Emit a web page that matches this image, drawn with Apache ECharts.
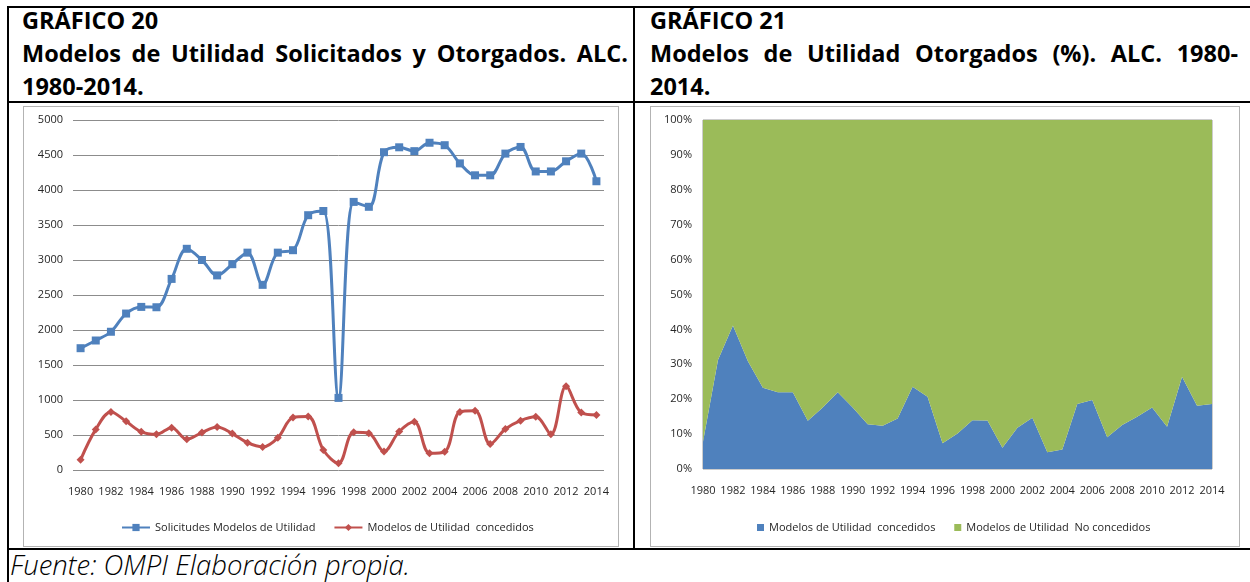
<!DOCTYPE html>
<html>
<head>
<meta charset="utf-8">
<script src="https://cdn.jsdelivr.net/npm/echarts@6/dist/echarts.min.js"></script>
<style>
  html, body { margin:0; padding:0; background:#fff; }
  body { width:1250px; height:582px; position:relative; overflow:hidden; font-family:"Open Sans", sans-serif; }
  .ln { position:absolute; background:#000; }
  .frame { position:absolute; border:1px solid #b3b3b3; box-sizing:border-box; background:#fff; }
  .title { position:absolute; font-weight:bold; font-size:23.5px; line-height:33px; color:#000; }
  .title div { white-space:nowrap; }
  .just { text-align:justify; text-align-last:justify; }
  #foot { position:absolute; left:10px; top:549px; font-size:27.5px; line-height:32px; font-style:italic; font-weight:300; color:#000; }
  #chart { position:absolute; left:0; top:0; width:1250px; height:582px; }
</style>
</head>
<body>
<div class="ln" style="left:7px;top:6px;width:1243px;height:2px;"></div>
<div class="ln" style="left:7px;top:6px;width:2px;height:576px;"></div>
<div class="ln" style="left:633px;top:6px;width:2px;height:544px;"></div>
<div class="ln" style="left:7px;top:101px;width:1243px;height:2px;"></div>
<div class="ln" style="left:7px;top:548px;width:1243px;height:2px;"></div>

<div class="frame" style="left:23px;top:106px;width:596px;height:441px;"></div>
<div class="frame" style="left:650px;top:106px;width:590px;height:441px;"></div>

<div class="title" style="left:22px;top:4px;width:606px;">
  <div>GRÁFICO 20</div>
  <div class="just">Modelos de Utilidad Solicitados y Otorgados. ALC.</div>
  <div>1980-2014.</div>
</div>
<div class="title" style="left:650px;top:4px;width:588px;">
  <div>GRÁFICO 21</div>
  <div class="just">Modelos de Utilidad Otorgados (%). ALC. 1980-</div>
  <div>2014.</div>
</div>
<div id="foot">Fuente: OMPI Elaboración propia.</div>

<div id="chart"></div>
<script>
const years = ['1980','1981','1982','1983','1984','1985','1986','1987','1988','1989','1990','1991','1992','1993','1994','1995','1996','1997','1998','1999','2000','2001','2002','2003','2004','2005','2006','2007','2008','2009','2010','2011','2012','2013','2014'];
const solicitudes = [1740,1850,1975,2235,2330,2325,2730,3160,3000,2780,2940,3105,2645,3105,3140,3640,3700,1030,3830,3760,4540,4610,4555,4675,4640,4380,4210,4210,4520,4615,4265,4265,4410,4520,4125];
const concedidos = [145,580,830,695,545,510,605,440,535,615,520,390,330,460,750,765,285,95,540,525,265,550,690,240,260,830,845,370,585,705,760,510,1195,820,785];
const pctConcedidos = [7.8,31.2,41.1,30.9,23.3,22.0,22.0,13.8,17.6,22.0,17.6,12.8,12.4,14.5,23.6,20.7,7.4,10.2,14.0,13.9,6.1,11.8,14.7,4.8,5.6,18.6,19.8,9.1,12.6,15.0,17.6,12.1,26.4,18.1,18.6];
const pctNoConcedidos = [92.2,68.8,58.9,69.1,76.7,78.0,78.0,86.2,82.4,78.0,82.4,87.2,87.6,85.5,76.4,79.3,92.6,89.8,86.0,86.1,93.9,88.2,85.3,95.2,94.4,81.4,80.2,90.9,87.4,85.0,82.4,87.9,73.6,81.9,81.4];
const seriesNames = ['Solicitudes Modelos de Utilidad','Modelos de Utilidad  concedidos','Modelos de Utilidad  concedidos ','Modelos de Utilidad  No concedidos'];

const BLUE = '#4F81BD', RED = '#C0504D', GREEN = '#9BBB59';
const FONT = 'Open Sans';
const lbl = { fontFamily: FONT, fontSize: 11, color: '#262626' };

const chart = echarts.init(document.getElementById('chart'), null, { renderer: 'canvas' });
chart.setOption({
  animation: false,
  backgroundColor: 'transparent',
  textStyle: { fontFamily: FONT },
  grid: [
    { left: 73, top: 120, width: 531, height: 350 },
    { left: 703, top: 120, width: 509, height: 349, show: true, borderColor: '#9a9a9a', borderWidth: 1, backgroundColor: 'transparent' }
  ],
  xAxis: [
    { type: 'category', gridIndex: 0, data: years, boundaryGap: true,
      axisLine: { show: false }, axisTick: { show: false },
      axisLabel: Object.assign({ interval: 1, margin: 16 }, lbl) },
    { type: 'category', gridIndex: 1, data: years, boundaryGap: false,
      axisLine: { show: false }, axisTick: { show: false },
      axisLabel: Object.assign({ interval: 1, margin: 16 }, lbl) }
  ],
  yAxis: [
    { type: 'value', gridIndex: 0, min: 0, max: 5000, interval: 500,
      axisLine: { show: false }, axisTick: { show: false },
      splitLine: { lineStyle: { color: '#8c8c8c', width: 1 } },
      axisLabel: Object.assign({ margin: 10, formatter: function (v) { return String(v); } }, lbl) },
    { type: 'value', gridIndex: 1, min: 0, max: 100, interval: 10,
      axisLine: { show: false }, axisTick: { show: false },
      splitLine: { show: false },
      axisLabel: Object.assign({ margin: 11, formatter: '{value}%' }, lbl) }
  ],
  legend: [
    { data: [seriesNames[0], seriesNames[1]], left: 116, top: 517, itemGap: 18,
      itemWidth: 28, itemHeight: 9, textStyle: { fontFamily: FONT, fontSize: 11, color: '#262626' } },
    { data: [seriesNames[2], seriesNames[3]], left: 752, top: 517, itemGap: 16,
      itemWidth: 7, itemHeight: 7, icon: 'rect', textStyle: { fontFamily: FONT, fontSize: 11, color: '#262626' } }
  ],
  series: [
    { name: seriesNames[0], type: 'line', xAxisIndex: 0, yAxisIndex: 0, data: solicitudes,
      smooth: 0.35, symbol: 'rect', symbolSize: 8, color: BLUE,
      lineStyle: { width: 3, color: BLUE }, itemStyle: { color: BLUE } },
    { name: seriesNames[1], type: 'line', xAxisIndex: 0, yAxisIndex: 0, data: concedidos,
      smooth: 0.35, symbol: 'diamond', symbolSize: 8, color: RED,
      lineStyle: { width: 3, color: RED }, itemStyle: { color: RED } },
    { name: seriesNames[2], type: 'line', xAxisIndex: 1, yAxisIndex: 1, data: pctConcedidos,
      stack: 'pct', symbol: 'none', color: BLUE, lineStyle: { width: 0 },
      areaStyle: { color: BLUE, opacity: 1 }, itemStyle: { color: BLUE } },
    { name: seriesNames[3], type: 'line', xAxisIndex: 1, yAxisIndex: 1, data: pctNoConcedidos,
      stack: 'pct', symbol: 'none', color: GREEN, lineStyle: { width: 0 },
      areaStyle: { color: GREEN, opacity: 1 }, itemStyle: { color: GREEN } }
  ]
});
</script>
</body>
</html>
